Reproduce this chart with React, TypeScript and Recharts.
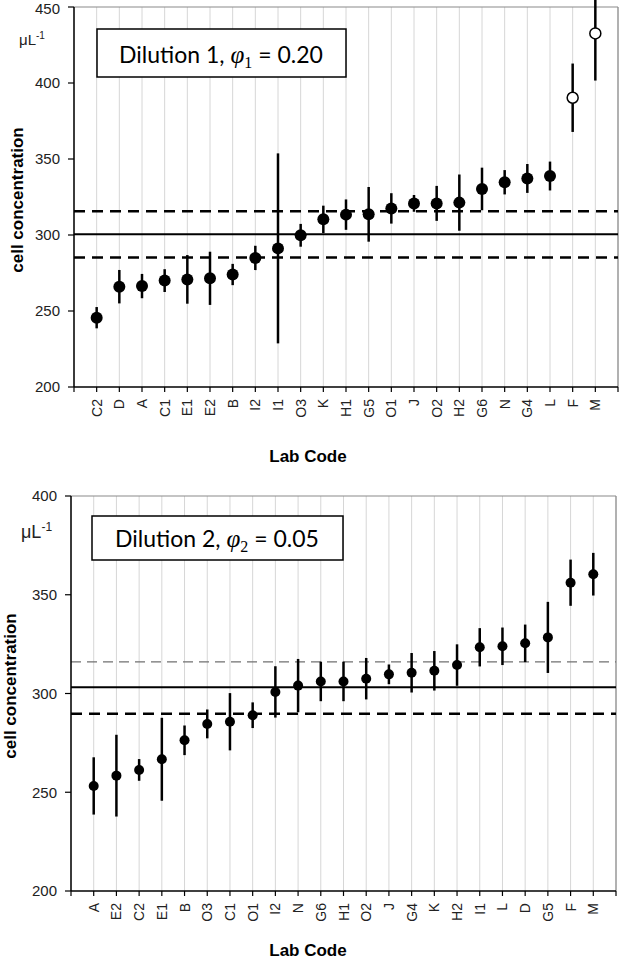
import {
  ScatterChart,
  Scatter,
  XAxis,
  YAxis,
  CartesianGrid,
  ReferenceLine,
  ErrorBar,
} from "recharts";

// Dilution 1 (sorted by lab result)
const labs1 = ["C2", "D", "A", "C1", "E1", "E2", "B", "I2", "I1", "O3", "K", "H1", "G5", "O1", "J", "O2", "H2", "G6", "N", "G4", "L", "F", "M"];
const conc1 = [245.6, 266, 266.4, 270, 270.8, 271.5, 274, 284.9, 291.2, 299.8, 310.3, 313.4, 313.6, 317.5, 320.8, 320.8, 321.3, 330.3, 334.7, 337.2, 338.8, 390.3, 432.6];
const unc1 = [7, 11, 8, 7.5, 16, 17.5, 7, 8, 62.5, 7.5, 9, 10, 18, 10, 5.5, 11.5, 18.5, 14, 8, 9.5, 9.5, 22.5, 31];
const outliers1 = ["F", "M"];
const mean1 = 300.5;
const lower1 = 285.2;
const upper1 = 315.6;
const yTicks1 = [200, 250, 300, 350, 400, 450];

// Dilution 2
const labs2 = ["A", "E2", "C2", "E1", "B", "O3", "C1", "O1", "I2", "N", "G6", "H1", "O2", "J", "G4", "K", "H2", "I1", "L", "D", "G5", "F", "M"];
const conc2 = [253.2, 258.4, 261.3, 266.7, 276.3, 284.6, 285.7, 289, 300.8, 304, 306.1, 306.1, 307.5, 309.7, 310.5, 311.5, 314.4, 323.4, 323.9, 325.4, 328.4, 356.1, 360.4];
const unc2 = [14.5, 20.7, 5.5, 21, 7.5, 7.3, 14.5, 6.5, 13, 13.5, 10, 10, 10.5, 5, 10, 10, 10.5, 9.7, 9.5, 9.5, 18, 11.7, 10.8];
const mean2 = 303.2;
const lower2 = 289.8;
const upper2 = 316;
const yTicks2 = [200, 250, 300, 350, 400];

const FONT = "'Liberation Sans', Arial, sans-serif";

const toRows = (labs: string[], conc: number[], unc: number[]) =>
  labs.map((lab, i) => ({ x: i + 1, y: conc[i], err: unc[i], lab }));

const rows1 = toRows(labs1, conc1, unc1);
const filled1 = rows1.filter((r) => !outliers1.includes(r.lab));
const open1 = rows1.filter((r) => outliers1.includes(r.lab));
const rows2 = toRows(labs2, conc2, unc2);

const xTicks = Array.from({ length: 25 }, (_, i) => i);

const makeTick = (labs: string[]) => (props: any) => {
  const { x, y, payload } = props;
  const lab = labs[payload.value - 1] ?? "";
  return (
    <text
      x={x}
      y={y}
      transform={`rotate(-90 ${x} ${y})`}
      textAnchor="end"
      dominantBaseline="central"
      fontSize={14}
      fontFamily={FONT}
      fill="#222"
    >
      {lab}
    </text>
  );
};

const dot = (r: number, open = false) => (props: any) => (
  <circle
    cx={props.cx}
    cy={props.cy}
    r={r}
    fill={open ? "#fff" : "#000"}
    stroke="#000"
    strokeWidth={open ? 1.5 : 0}
  />
);

const Panel = ({
  rows,
  openRows,
  labs,
  yTicks,
  yMax,
  mean,
  lower,
  upper,
  height,
  top,
  yWidth,
  right,
  xHeight,
  r,
  upperThin,
}: any) => (
  <ScatterChart
    width={622}
    height={height}
    margin={{ top, right, bottom: 0, left: 0 }}
  >
    <CartesianGrid vertical horizontal={false} stroke="#d6d6d6" strokeWidth={1} />
    <XAxis
      dataKey="x"
      type="number"
      domain={[0, 24]}
      ticks={xTicks}
      interval={0}
      height={xHeight}
      tick={makeTick(labs)}
      tickSize={5}
      tickMargin={7}
      axisLine={{ stroke: "#000", strokeWidth: 1.5 }}
      tickLine={{ stroke: "#000", strokeWidth: 1.2 }}
    />
    <YAxis
      dataKey="y"
      type="number"
      domain={[200, yMax]}
      ticks={yTicks}
      allowDataOverflow
      width={yWidth}
      tickSize={6}
      tickMargin={8}
      tick={{ fontSize: 15, fontFamily: FONT, fill: "#222" }}
      axisLine={{ stroke: "#000", strokeWidth: 1.5 }}
      tickLine={{ stroke: "#000", strokeWidth: 1.2 }}
    />
    <ReferenceLine y={yMax} stroke="#8a8a8a" strokeWidth={1.2} />
    <ReferenceLine x={24} stroke="#8a8a8a" strokeWidth={1.2} />
    <ReferenceLine y={mean} stroke="#000" strokeWidth={2} />
    <ReferenceLine y={lower} stroke="#000" strokeWidth={2.5} strokeDasharray="11 7" />
    {upperThin ? (
      <ReferenceLine y={upper} stroke="#707070" strokeWidth={1.3} strokeDasharray="10 6" />
    ) : (
      <ReferenceLine y={upper} stroke="#000" strokeWidth={2.5} strokeDasharray="11 7" />
    )}
    <Scatter data={rows} isAnimationActive={false} shape={dot(r)}>
      <ErrorBar dataKey="err" direction="y" width={0} stroke="#000" strokeWidth={2.5} isAnimationActive={false} />
    </Scatter>
    {openRows && (
      <Scatter data={openRows} isAnimationActive={false} shape={dot(r - 0.5, true)}>
        <ErrorBar dataKey="err" direction="y" width={0} stroke="#000" strokeWidth={2.5} isAnimationActive={false} />
      </Scatter>
    )}
  </ScatterChart>
);

const sans = "Lato, 'Open Sans', sans-serif";
const serif = "'Liberation Serif', 'DejaVu Serif', serif";

const App = () => (
  <div style={{ position: "absolute", left: 0, top: 0, width: 622, height: 959, background: "#fff" }}>
    <div style={{ position: "absolute", left: 0, top: 0 }}>
      <Panel
        rows={filled1}
        openRows={open1}
        labs={labs1}
        yTicks={yTicks1}
        yMax={450}
        mean={mean1}
        lower={lower1}
        upper={upper1}
        height={480}
        top={7}
        yWidth={74}
        right={4}
        xHeight={93}
        r={6}
      />
    </div>
    <div style={{ position: "absolute", left: 0, top: 480 }}>
      <Panel
        rows={rows2}
        labs={labs2}
        yTicks={yTicks2}
        yMax={400}
        mean={mean2}
        lower={lower2}
        upper={upper2}
        height={479}
        top={16}
        yWidth={71}
        right={6}
        xHeight={68}
        r={5}
        upperThin
      />
    </div>
    <svg
      width={622}
      height={959}
      style={{ position: "absolute", left: 0, top: 0, pointerEvents: "none" }}
    >
      {/* unit labels */}
      <text x={19} y={45} fontSize={15} fontFamily={FONT} fill="#222">
        μL<tspan dy={-6} fontSize={10}>-1</tspan>
      </text>
      <text x={21} y={538} fontSize={18} fontFamily={FONT} fill="#222">
        μL<tspan dy={-7} fontSize={12}>-1</tspan>
      </text>

      {/* axis titles */}
      <text x={17} y={200} transform="rotate(-90 17 200)" textAnchor="middle" dominantBaseline="central" fontSize={17} fontWeight="bold" fontFamily={FONT}>
        cell concentration
      </text>
      <text x={10} y={686} transform="rotate(-90 10 686)" textAnchor="middle" dominantBaseline="central" fontSize={17} fontWeight="bold" fontFamily={FONT}>
        cell concentration
      </text>
      <text x={308} y={462} textAnchor="middle" fontSize={17} fontWeight="bold" fontFamily={FONT}>
        Lab Code
      </text>
      <text x={308} y={956} textAnchor="middle" fontSize={17} fontWeight="bold" fontFamily={FONT}>
        Lab Code
      </text>

      {/* dilution boxes */}
      <rect x={97} y={29} width={249} height={48} fill="#fff" stroke="#000" strokeWidth={1.5} />
      <text x={119} y={63} fontSize={23} fontFamily={sans} fill="#000">
        Dilution 1,{" "}
        <tspan fontFamily={serif} fontStyle="italic" fontSize={25}>φ</tspan>
        <tspan fontFamily={serif} fontSize={16} dy={5}>1</tspan>
        <tspan dy={-5}> = 0.20</tspan>
      </text>
      <rect x={92} y={516} width={251} height={44} fill="#fff" stroke="#000" strokeWidth={1.5} />
      <text x={115} y={547} fontSize={23} fontFamily={sans} fill="#000">
        Dilution 2,{" "}
        <tspan fontFamily={serif} fontStyle="italic" fontSize={25}>φ</tspan>
        <tspan fontFamily={serif} fontSize={16} dy={5}>2</tspan>
        <tspan dy={-5}> = 0.05</tspan>
      </text>
    </svg>
  </div>
);

export default App;
